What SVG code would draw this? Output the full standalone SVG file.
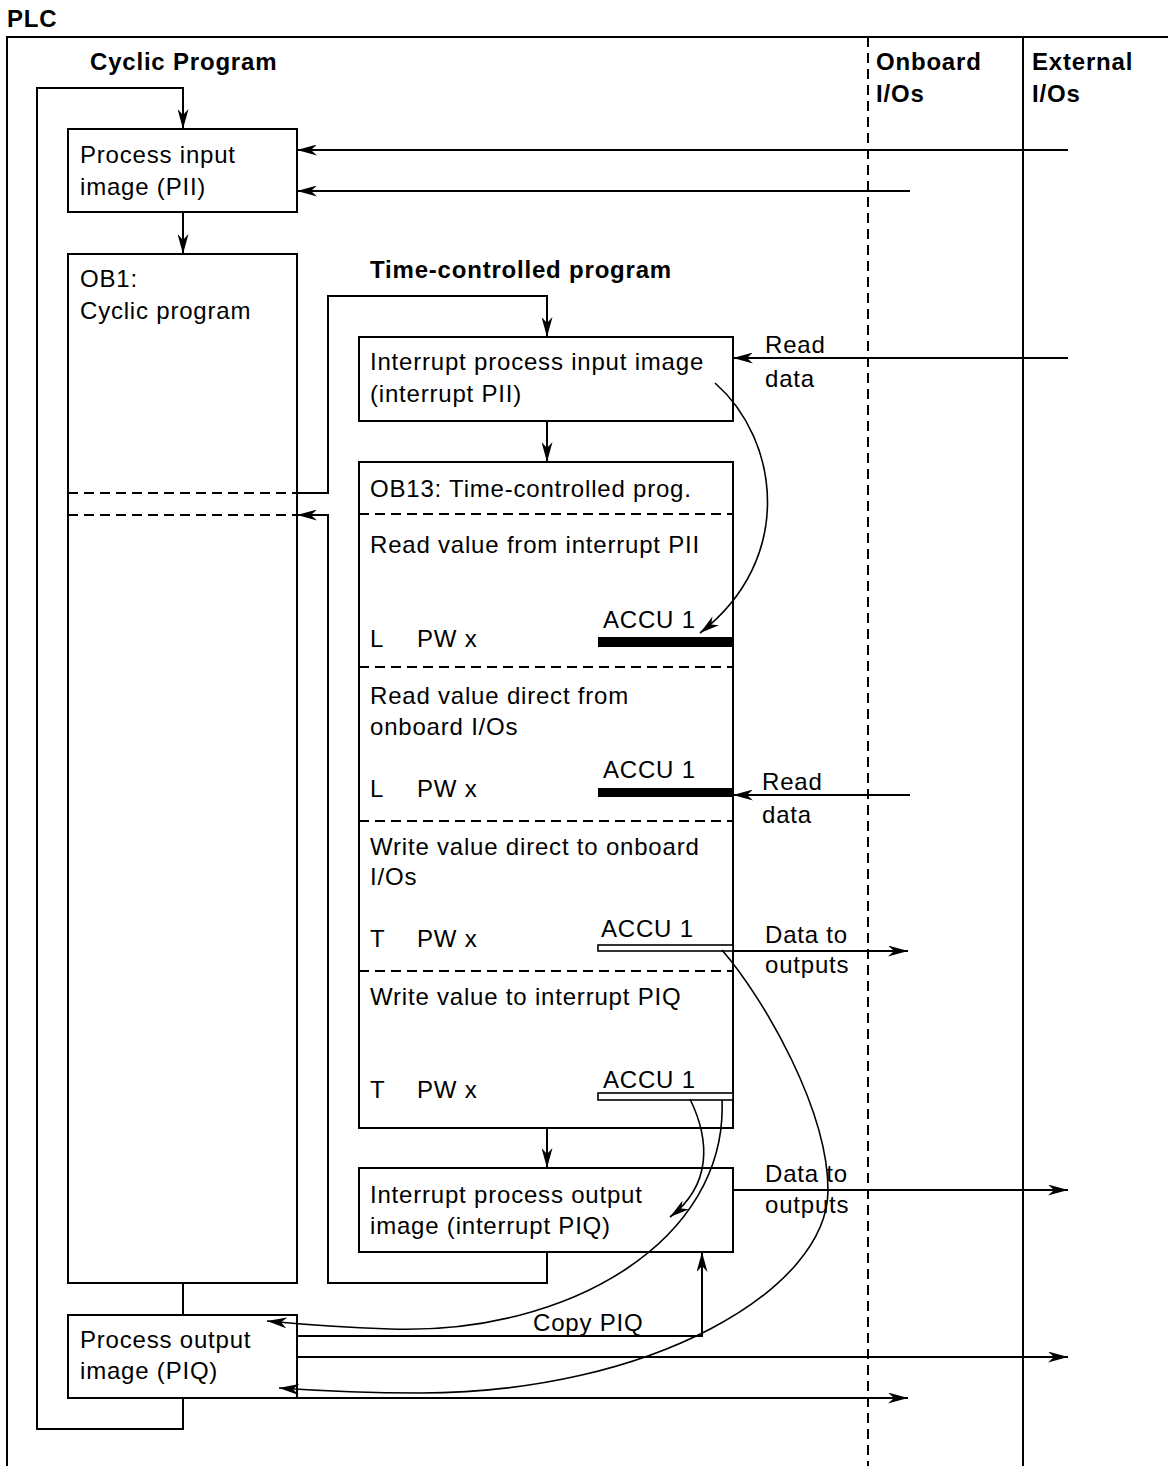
<svg xmlns="http://www.w3.org/2000/svg" width="1168" height="1466" viewBox="0 0 1168 1466">
<style>
text{font-family:"Liberation Sans",Arial,sans-serif;font-size:24px;letter-spacing:0.8px;fill:#000}
.b{font-weight:bold}
.box{fill:#fff;stroke:#000;stroke-width:2}
.ln{fill:none;stroke:#000;stroke-width:2}
.cv{fill:none;stroke:#000;stroke-width:1.6}
.dash{fill:none;stroke:#000;stroke-width:2;stroke-dasharray:10,6}
.thick{fill:#000}
.hollow{fill:#fff;stroke:#000;stroke-width:1.6}
</style>
<defs>
<marker id="ah" viewBox="0 0 20 11" refX="20" refY="5.5" markerWidth="20" markerHeight="11" markerUnits="userSpaceOnUse" orient="auto">
<path d="M0,0 L20,5.5 L0,11 L6,5.5 z" fill="#000"/>
</marker>
</defs>
<rect width="1168" height="1466" fill="#fff"/>
<g id="frame">
<text class="b" x="7" y="27">PLC</text>
<path class="ln" d="M7,1466 V37 H1168"/>
<line class="dash" x1="868" y1="37" x2="868" y2="1466"/>
<line class="ln" x1="1023" y1="37" x2="1023" y2="1466"/>
<text class="b" x="90" y="70">Cyclic Program</text>
<text class="b" x="370" y="278">Time-controlled program</text>
<text class="b" x="876" y="70">Onboard</text>
<text class="b" x="876" y="102">I/Os</text>
<text class="b" x="1032" y="70">External</text>
<text class="b" x="1032" y="102">I/Os</text>
</g>
<g id="pii">
<rect class="box" x="68" y="129" width="229" height="83"/>
<text x="80" y="163">Process input</text>
<text x="80" y="195">image (PII)</text>
</g>
<g id="ob1">
<rect class="box" x="68" y="254" width="229" height="1029"/>
<text x="80" y="287">OB1:</text>
<text x="80" y="319">Cyclic program</text>
<line class="dash" x1="68" y1="493" x2="297" y2="493"/>
<line class="dash" x1="68" y1="515" x2="297" y2="515"/>
</g>
<g id="piq">
<rect class="box" x="68" y="1315" width="229" height="83"/>
<text x="80" y="1348">Process output</text>
<text x="80" y="1379">image (PIQ)</text>
</g>
<g id="int-pii">
<rect class="box" x="359" y="337" width="374" height="84"/>
<text x="370" y="370">Interrupt process input image</text>
<text x="370" y="402">(interrupt PII)</text>
</g>
<g id="ob13">
<rect class="box" x="359" y="462" width="374" height="666"/>
<text x="370" y="497">OB13: Time-controlled prog.</text>
<line class="dash" x1="359" y1="514" x2="733" y2="514"/>
<text x="370" y="553">Read value from interrupt PII</text>
<text x="370" y="647">L</text>
<text x="417" y="647">PW x</text>
<text x="603" y="628">ACCU 1</text>
<rect class="thick" x="598" y="637" width="135" height="10"/>
<line class="dash" x1="359" y1="667" x2="733" y2="667"/>
<text x="370" y="704">Read value direct from</text>
<text x="370" y="735">onboard I/Os</text>
<text x="370" y="797">L</text>
<text x="417" y="797">PW x</text>
<text x="603" y="778">ACCU 1</text>
<rect class="thick" x="598" y="788" width="135" height="9"/>
<line class="dash" x1="359" y1="821" x2="733" y2="821"/>
<text x="370" y="855">Write value direct to onboard</text>
<text x="370" y="885">I/Os</text>
<text x="370" y="947">T</text>
<text x="417" y="947">PW x</text>
<text x="601" y="937">ACCU 1</text>
<rect class="hollow" x="598" y="945" width="135" height="6"/>
<line class="dash" x1="359" y1="971" x2="733" y2="971"/>
<text x="370" y="1005">Write value to interrupt PIQ</text>
<text x="370" y="1098">T</text>
<text x="417" y="1098">PW x</text>
<text x="603" y="1088">ACCU 1</text>
<rect class="hollow" x="598" y="1093" width="135" height="7"/>
</g>
<g id="int-piq">
<rect class="box" x="359" y="1168" width="374" height="84"/>
<text x="370" y="1203">Interrupt process output</text>
<text x="370" y="1234">image (interrupt PIQ)</text>
</g>
<g id="connectors">
<path class="ln" d="M183,1398 V1429 H37 V88 H183 V129" marker-end="url(#ah)"/>
<line class="ln" x1="183" y1="212" x2="183" y2="254" marker-end="url(#ah)"/>
<line class="ln" x1="183" y1="1283" x2="183" y2="1315"/>
<line class="ln" x1="1068" y1="150" x2="297" y2="150" marker-end="url(#ah)"/>
<line class="ln" x1="910" y1="191" x2="297" y2="191" marker-end="url(#ah)"/>
<path class="ln" d="M297,493 H328 V296 H547 V337" marker-end="url(#ah)"/>
<path class="ln" d="M547,1252 V1283 H328 V515 H297" marker-end="url(#ah)"/>
<line class="ln" x1="547" y1="421" x2="547" y2="462" marker-end="url(#ah)"/>
<line class="ln" x1="547" y1="1128" x2="547" y2="1168" marker-end="url(#ah)"/>
<line class="ln" x1="1068" y1="358" x2="733" y2="358" marker-end="url(#ah)"/>
<text x="765" y="353">Read</text>
<text x="765" y="387">data</text>
<path class="cv" d="M715,383 C780,440 795,560 700,633" marker-end="url(#ah)"/>
<line class="ln" x1="910" y1="795" x2="733" y2="795" marker-end="url(#ah)"/>
<text x="762" y="790">Read</text>
<text x="762" y="823">data</text>
<line class="ln" x1="733" y1="951" x2="908" y2="951" marker-end="url(#ah)"/>
<text x="765" y="943">Data to</text>
<text x="765" y="973">outputs</text>
<line class="ln" x1="733" y1="1190" x2="1068" y2="1190" marker-end="url(#ah)"/>
<text x="765" y="1182">Data to</text>
<text x="765" y="1213">outputs</text>
<path class="cv" d="M690,1099 C710,1140 712,1185 670,1217" marker-end="url(#ah)"/>
<path class="cv" d="M722,1100 C728,1240 570,1335 390,1329 Q330,1327 267,1321" marker-end="url(#ah)"/>
<path class="cv" d="M722,950 C765,1000 828,1110 828,1190 C828,1290 650,1393 420,1393 Q350,1393 279,1388" marker-end="url(#ah)"/>
<path class="ln" d="M297,1336 H702 V1252" marker-end="url(#ah)"/>
<text x="533" y="1331">Copy PIQ</text>
<line class="ln" x1="297" y1="1357" x2="1068" y2="1357" marker-end="url(#ah)"/>
<line class="ln" x1="297" y1="1398" x2="908" y2="1398" marker-end="url(#ah)"/>
</g>
</svg>
